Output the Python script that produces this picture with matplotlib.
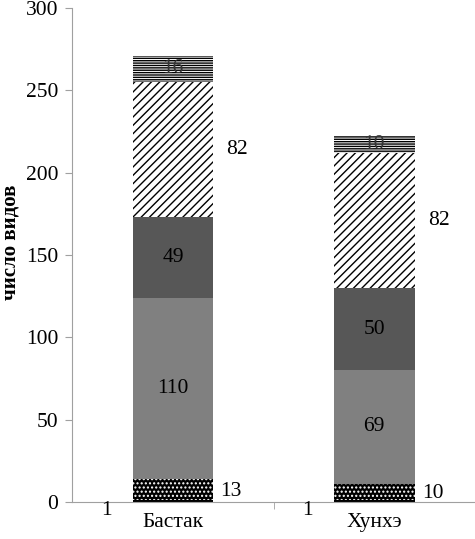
import matplotlib
matplotlib.use("Agg")
import matplotlib.pyplot as plt
import numpy as np

plt.rcParams['font.family'] = ['Liberation Serif', 'DejaVu Serif']
plt.rcParams['hatch.linewidth'] = 1.0

sites = ["Бастак", "Хунхэ"]
# segments from bottom to top
seg_a = [1, 1]
seg_b = [13, 10]
seg_c = [110, 69]
seg_d = [49, 50]
seg_e = [82, 82]
seg_f = [16, 10]

fig = plt.figure(figsize=(4.75, 5.39), dpi=100)
ax = fig.add_axes([0.152, 0.069, 0.848, 0.916])

x = np.arange(len(sites))
w = 0.4
bottom = np.zeros(len(sites))

ax.bar(x, seg_a, w, bottom=bottom, color="black", linewidth=0)
bottom += seg_a
ax.bar(x, seg_b, w, bottom=bottom, color="black", edgecolor="white", hatch="....", linewidth=0)
bottom_b = bottom.copy()
bottom += seg_b
ax.bar(x, seg_c, w, bottom=bottom, color="#808080", linewidth=0)
bottom_c = bottom.copy()
bottom += seg_c
ax.bar(x, seg_d, w, bottom=bottom, color="#575757", linewidth=0)
bottom_d = bottom.copy()
bottom += seg_d
ax.bar(x, seg_e, w, bottom=bottom, color="white", edgecolor="black", hatch="////", linewidth=0)
bottom_e = bottom.copy()
bottom += seg_e
ax.bar(x, seg_f, w, bottom=bottom, color="white", edgecolor="black", hatch="-------", linewidth=0)
bottom_f = bottom.copy()

fs = 15.5
for i in range(len(sites)):
    ax.text(x[i] - 0.33, -5, str(seg_a[i]), ha="center", va="center", fontsize=fs)
    ax.text(x[i] + 0.29, bottom_b[i] + seg_b[i] / 2 - 1, str(seg_b[i]), ha="center", va="center", fontsize=fs)
    ax.text(x[i], bottom_c[i] + seg_c[i] / 2, str(seg_c[i]), ha="center", va="center", fontsize=fs)
    ax.text(x[i], bottom_d[i] + seg_d[i] / 2, str(seg_d[i]), ha="center", va="center", fontsize=fs)
    ax.text(x[i] + 0.32, bottom_e[i] + seg_e[i] / 2, str(seg_e[i]), ha="center", va="center", fontsize=fs)
    ax.text(x[i], bottom_f[i] + seg_f[i] / 2, str(seg_f[i]), ha="center", va="center", fontsize=fs, color="#333333")

ax.set_xlim(-0.5, 1.5)
ax.set_ylim(0, 300)
ax.set_yticks(np.arange(0, 301, 50))
ax.set_xticks(x)
ax.set_xticklabels(sites)
ax.set_xticks([0.5, 1.5], minor=True)
ax.tick_params(axis="x", which="major", length=0, labelsize=fs, pad=8)
ax.tick_params(axis="x", which="minor", length=5, color="#a0a0a0", direction="out")
ax.tick_params(axis="y", labelsize=fs, length=5, color="#a0a0a0", direction="out", pad=5)

for s in ["top", "right"]:
    ax.spines[s].set_visible(False)
ax.spines["left"].set_color("#a0a0a0")
ax.spines["bottom"].set_color("#a0a0a0")

ax.set_ylabel("число видов", fontsize=15, fontweight="bold")
ax.yaxis.set_label_coords(-0.128, 0.526)

fig.savefig("out.png", dpi=100)
